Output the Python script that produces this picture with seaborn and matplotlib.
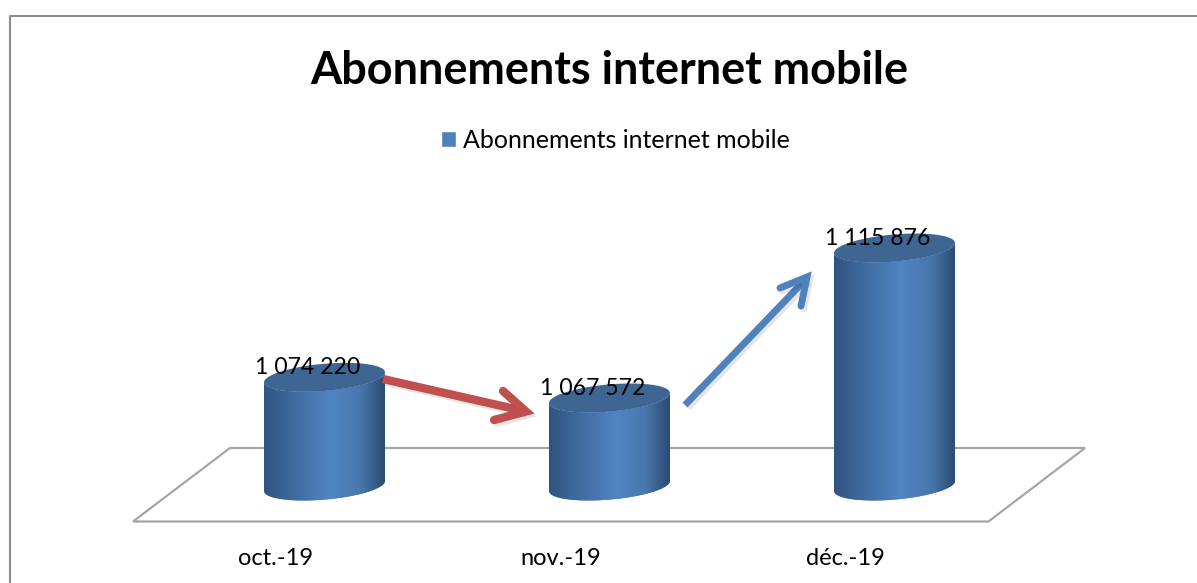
import numpy as np
import matplotlib
matplotlib.use('Agg')
import matplotlib.pyplot as plt
import matplotlib.patheffects as pe
from matplotlib.colors import LinearSegmentedColormap
from matplotlib.patches import Polygon
from matplotlib.transforms import ScaledTranslation
import seaborn as sns

months = ['oct.-19', 'nov.-19', 'déc.-19']
subscribers = [1074220, 1067572, 1115876]
series_name = 'Abonnements internet mobile'

W, H = 1197, 583
sns.set_theme(style='white')
plt.rcParams['font.family'] = ['Lato', 'DejaVu Sans']

BLUE = '#4F81BD'
RED = '#C0504D'
GREY = '#A6A6A6'
body_cmap = LinearSegmentedColormap.from_list('body', [
    (0.0, '#305481'), (0.25, '#3F6B9F'), (0.55, '#5085C4'),
    (0.8, '#4877AD'), (1.0, '#2B4B73')])

fig = plt.figure(figsize=(W / 100, H / 100), dpi=100)

# pixel canvas for the frame, the floor and the arrows
bg = fig.add_axes([0, 0, 1, 1], zorder=0)
fg = fig.add_axes([0, 0, 1, 1], zorder=2)
for a in (bg, fg):
    a.set_xlim(0, W)
    a.set_ylim(H, 0)
    a.axis('off')

bg.plot([9.5, 9.5, W], [H, 16, 16], color='#8C8C8C', lw=1.5)
bg.add_patch(Polygon([(230, 448), (1085, 448), (988.5, 521.5), (133, 521.5)],
                     closed=True, fill=False, edgecolor=GREY, lw=1.6))

# value axis: 3.105 px per 1000 subscribers, bar foot at y=486 px
ax_left, ax_right, ax_top, ax_bottom = 182, 1037, 200, 530
ax = fig.add_axes([ax_left / W, (H - ax_bottom) / H,
                   (ax_right - ax_left) / W, (ax_bottom - ax_top) / H], zorder=1)
ax.patch.set_alpha(0)
sns.barplot(x=months, y=subscribers, color=BLUE, saturation=1, width=121 / 285,
            label=series_name, ax=ax)

per_px = 1 / 0.003105
foot = 1039230
ylim = (foot - (ax_bottom - 486) * per_px, foot + (486 - ax_top) * per_px)
ax.set_xlim(-0.5, 2.5)
ax.set_ylim(ylim)
sns.despine(ax=ax, left=True, bottom=True)
ax.set_yticks([])
ax.tick_params(axis='x', length=0, pad=13, labelsize=17, labelcolor='black')
for lab in ax.get_xticklabels():
    lab.set_transform(lab.get_transform() + ScaledTranslation(-49 / 100, 0, fig.dpi_scale_trans))

tilt, minor = 5, 13.6
t = np.linspace(0, np.pi, 60)
gradient = np.linspace(0, 1, 256).reshape(1, -1)
for bar, value in zip(ax.patches, subscribers):
    half = bar.get_width() / 2
    cx = bar.get_x() + half
    lower_x = cx - half * np.cos(t)
    lower_y = foot + per_px * (-tilt * np.cos(t) - minor * np.sin(t))
    top_low_x = cx + half * np.cos(t)
    top_low_y = value + per_px * (tilt * np.cos(t) - minor * np.sin(t))
    top_up_y = value + per_px * (tilt * np.cos(t) + minor * np.sin(t))

    body = Polygon(np.r_[np.c_[lower_x, lower_y], np.c_[top_low_x, top_low_y]], closed=True,
                   transform=ax.transData, facecolor='none', edgecolor='none')
    ax.add_patch(body)
    bar.set_clip_path(body)
    ax.imshow(gradient, cmap=body_cmap, aspect='auto', interpolation='bilinear', zorder=3,
              extent=(cx - half, cx + half, foot - 20 * per_px, value + 10 * per_px),
              clip_path=body)
    lid = np.r_[np.c_[top_low_x, top_low_y], np.c_[top_low_x[::-1], top_up_y[::-1]]]
    ax.add_patch(Polygon(lid, closed=True, facecolor='#3F6592', edgecolor='none', zorder=4))
    ax.annotate(f'{value:,}'.replace(',', ' '), (cx, value), xytext=(-17 * 0.72, 7),
                textcoords='offset points', ha='center', va='center', fontsize=16.6,
                color='black', zorder=6)
ax.set_xlim(-0.5, 2.5)
ax.set_ylim(ylim)

# trend arrows
shadow = [pe.SimpleLineShadow(offset=(2, -2), shadow_color='black', alpha=0.1), pe.Normal()]
fg.plot([383, 524], [379, 411], color=RED, lw=6, solid_capstyle='butt', path_effects=shadow)
fg.plot([503, 526, 494], [391, 411.5, 420], color=RED, lw=6, solid_capstyle='round',
        solid_joinstyle='miter', path_effects=shadow)
fg.plot([685, 806], [405, 279], color=BLUE, lw=5, solid_capstyle='butt', path_effects=shadow)
fg.plot([780, 807, 801], [288, 277, 306], color=BLUE, lw=5, solid_capstyle='round',
        solid_joinstyle='miter', path_effects=shadow)

fig.suptitle(series_name, x=609.5 / W, y=1 - 71 / H, va='center', ha='center',
             fontsize=32.4, fontweight='bold', color='black')
ax.legend(loc='center', bbox_to_anchor=(615 / W, 1 - 140 / H), bbox_transform=fig.transFigure,
          frameon=False, fontsize=18, handlelength=0.6, handleheight=0.6, handletextpad=0.28,
          labelcolor='black')

fig.savefig('out.png', dpi=100, facecolor='white')
